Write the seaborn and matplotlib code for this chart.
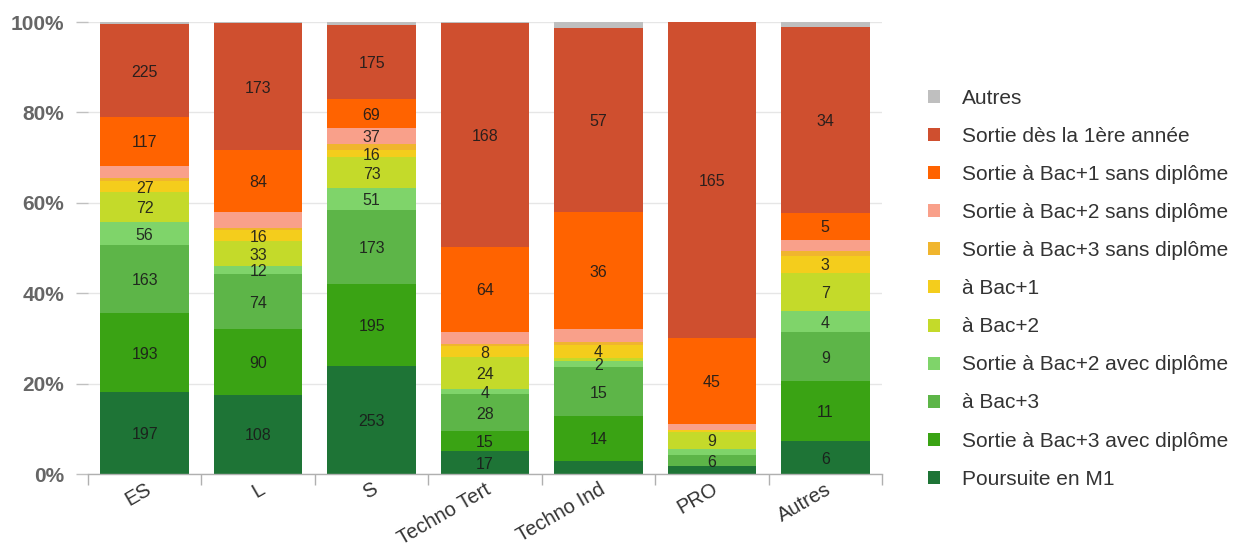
import numpy as np
import pandas as pd
import matplotlib
matplotlib.use("Agg")
import matplotlib.pyplot as plt
import seaborn as sns
from matplotlib.patches import Patch
from matplotlib.ticker import FuncFormatter, FixedLocator

# ---------------- data ----------------
categories = ["ES", "L", "S", "Techno Tert", "Techno Ind", "PRO", "Autres"]

# series, bottom of the stack first
poursuite_m1     = [197, 108, 253, 17, 4, 4, 6]
sortie_bac3_avec = [193, 90, 195, 15, 14, 0, 11]
a_bac3           = [163, 74, 173, 28, 15, 6, 9]
sortie_bac2_avec = [56, 12, 51, 4, 2, 3, 4]
a_bac2           = [72, 33, 73, 24, 1, 9, 7]
a_bac1           = [27, 16, 16, 8, 4, 1, 3]
sortie_bac3_sans = [6, 2, 15, 2, 1, 0, 1]
sortie_bac2_sans = [31, 22, 37, 9, 4, 3, 2]
sortie_bac1_sans = [117, 84, 69, 64, 36, 45, 5]
sortie_1ere      = [225, 173, 175, 168, 57, 165, 34]
autres           = [5, 2, 6, 1, 2, 0, 1]

series_names = [
    "Poursuite en M1",
    "Sortie à Bac+3 avec diplôme",
    "à Bac+3",
    "Sortie à Bac+2 avec diplôme",
    "à Bac+2",
    "à Bac+1",
    "Sortie à Bac+3 sans diplôme",
    "Sortie à Bac+2 sans diplôme",
    "Sortie à Bac+1 sans diplôme",
    "Sortie dès la 1ère année",
    "Autres",
]
series_values = [poursuite_m1, sortie_bac3_avec, a_bac3, sortie_bac2_avec, a_bac2,
                 a_bac1, sortie_bac3_sans, sortie_bac2_sans, sortie_bac1_sans,
                 sortie_1ere, autres]
colors = ["#1e7436", "#3aa314", "#5db548", "#7fd46a", "#c4da2a",
          "#f4cd1c", "#f0b52e", "#f9a08a", "#ff6300", "#cf4f2f", "#bfbfbf"]

# data labels hidden in the chart (overlapping / too small)
hidden_labels = {
    "Autres": categories,
    "Sortie à Bac+3 sans diplôme": categories,
    "Sortie à Bac+2 sans diplôme": ["ES", "L", "Techno Tert", "Techno Ind", "PRO", "Autres"],
    "à Bac+2": ["Techno Ind"],
    "Poursuite en M1": ["Techno Ind", "PRO"],
    "Sortie à Bac+2 avec diplôme": ["PRO"],
    "à Bac+1": ["PRO"],
    "Sortie à Bac+3 avec diplôme": ["PRO"],
}

# ---------------- table ----------------
vals = np.array(series_values, dtype=float)
totals = vals.sum(axis=0)
pct = vals / totals
cum_top = np.cumsum(pct, axis=0)
cum_bottom = cum_top - pct

rows = []
for si, name in enumerate(series_names):
    for ci, cat in enumerate(categories):
        rows.append(dict(series=name, cat=cat, value=vals[si, ci],
                         pct=pct[si, ci], top=cum_top[si, ci], bottom=cum_bottom[si, ci]))
df = pd.DataFrame(rows)

# ---------------- plot ----------------
sns.set_style("white")
plt.rcParams["font.family"] = ["Liberation Sans", "DejaVu Sans"]

fig = plt.figure(figsize=(12.35, 5.46), dpi=100)
ax = fig.add_axes([88 / 1235, 1 - 474 / 546, (882 - 88) / 1235, (474 - 22) / 546])

ax.set_axisbelow(True)
ax.yaxis.grid(True, color="#e6e6e6", lw=1)

for si in range(len(series_names) - 1, -1, -1):
    sub = df[df["series"] == series_names[si]]
    sns.barplot(data=sub, x="cat", y="top", order=categories, color=colors[si],
                width=0.78, saturation=1, errorbar=None, linewidth=0, ax=ax)

for si, name in enumerate(series_names):
    hid = hidden_labels.get(name, [])
    for ci, cat in enumerate(categories):
        v = vals[si, ci]
        if v <= 0 or cat in hid:
            continue
        ax.text(ci, cum_bottom[si, ci] + pct[si, ci] / 2, f"{int(v)}",
                ha="center", va="center_baseline", fontsize=11.5, color="#1a1a1a", alpha=0.9)

ax.set_xlim(-0.5, len(categories) - 0.5)
ax.set_ylim(0, 1)
ax.set_xlabel("")
ax.set_ylabel("")

ax.yaxis.set_major_locator(FixedLocator([0, 0.2, 0.4, 0.6, 0.8, 1.0]))
ax.yaxis.set_major_formatter(FuncFormatter(lambda y, _: f"{int(round(y * 100))}%"))
ax.tick_params(axis="y", which="major", length=9, width=1, color="#c0c0c0", pad=8,
               labelsize=15, labelcolor="#666666", left=True)
for lab in ax.get_yticklabels():
    lab.set_fontweight("bold")

ax.set_xticks(range(len(categories)))
ax.set_xticklabels(categories, rotation=30, ha="right", rotation_mode="anchor")
ax.tick_params(axis="x", which="major", length=0, pad=4, labelsize=14.5, labelcolor="#333333")
ax.set_xticks(np.arange(-0.5, len(categories), 1.0), minor=True)
ax.tick_params(axis="x", which="minor", length=8, width=1, color="#b0b0b0", bottom=True)

for s in ["top", "right", "left"]:
    ax.spines[s].set_visible(False)
ax.spines["bottom"].set_color("#b0b0b0")
ax.spines["bottom"].set_linewidth(1)

handles = [Patch(facecolor=colors[i], edgecolor="none") for i in range(len(series_names) - 1, -1, -1)]
labels = [series_names[i] for i in range(len(series_names) - 1, -1, -1)]
fig.legend(handles, labels, loc="upper left", bbox_to_anchor=(928 / 1235, 1 - 89 / 546),
           frameon=False, fontsize=15, handlelength=0.58, handleheight=0.58,
           handletextpad=1.06, labelspacing=0.915, borderpad=0, borderaxespad=0,
           labelcolor="#333333")

fig.savefig("out.png", dpi=100)
